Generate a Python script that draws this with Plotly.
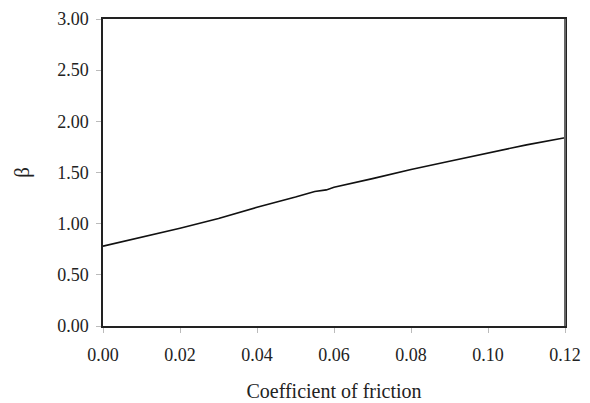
import plotly.graph_objects as go

friction = [0, 0.01, 0.02, 0.03, 0.034, 0.04, 0.05, 0.053, 0.055, 0.058, 0.06, 0.07, 0.08, 0.09, 0.10, 0.11, 0.12]
beta = [0.78, 0.865, 0.955, 1.05, 1.095, 1.16, 1.26, 1.29, 1.315, 1.33, 1.355, 1.44, 1.53, 1.61, 1.69, 1.77, 1.84]

x_ticks = [0, 0.02, 0.04, 0.06, 0.08, 0.10, 0.12]
y_ticks = [0, 0.5, 1.0, 1.5, 2.0, 2.5, 3.0]

font = dict(family="Liberation Serif", size=18, color="#222")

fig = go.Figure()
fig.add_trace(go.Scatter(x=friction, y=beta, mode="lines",
                         line=dict(color="#111", width=1.6),
                         showlegend=False))

fig.update_layout(
    width=590, height=403,
    margin=dict(l=103, r=25, t=19, b=77),
    paper_bgcolor="white", plot_bgcolor="white",
    font=font,
    xaxis=dict(range=[0, 0.12], tickvals=x_ticks, ticktext=[f"{v:.2f}" for v in x_ticks],
               showgrid=False, zeroline=False, showline=True, linecolor="#222", linewidth=1.5,
               mirror=True, ticks="outside", ticklen=5, tickcolor="#bbb", tickwidth=1,
               ticklabelstandoff=7, automargin=False,
               title=dict(text="Coefficient of friction", font=dict(size=20), standoff=20)),
    yaxis=dict(range=[0, 3], tickvals=y_ticks, ticktext=[f"{v:.2f}" for v in y_ticks],
               showgrid=False, zeroline=False, showline=True, linecolor="#222", linewidth=1.5,
               mirror=True, ticks="outside", ticklen=5, tickcolor="#bbb", tickwidth=1,
               ticklabelstandoff=4, automargin=False,
               title=dict(text="β", font=dict(size=21), standoff=22)),
)
fig.add_shape(type="line", xref="paper", yref="paper", x0=1, x1=1, y0=0, y1=1,
              line=dict(color="#666", width=2))

fig.write_html("out.html")
